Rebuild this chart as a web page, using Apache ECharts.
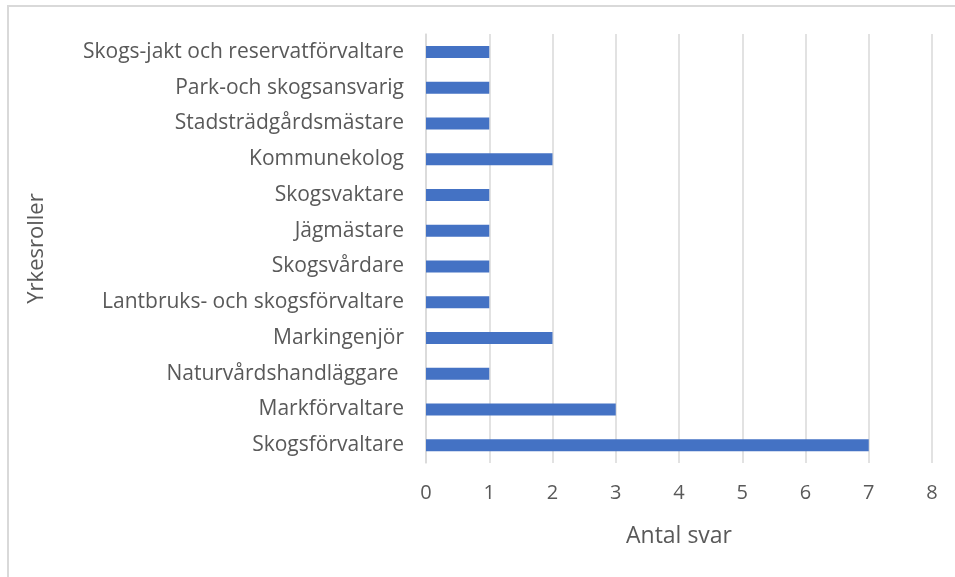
<!DOCTYPE html>
<html>
<head>
<meta charset="utf-8">
<script src="https://cdn.jsdelivr.net/npm/echarts@6/dist/echarts.min.js"></script>
<style>
  html, body { margin: 0; padding: 0; background: #fff; }
  #frame {
    position: absolute; left: 7px; top: 5px; width: 960px; height: 590px;
    border-left: 2px solid #d9d9d9; border-top: 2px solid #d9d9d9;
  }
  #chart { position: absolute; left: 0; top: 0; width: 955px; height: 577px; }
</style>
</head>
<body>
<div id="frame"></div>
<div id="chart"></div>
<script>
// yrkesroller, nedifrån och upp
const roles = [
  'Skogsförvaltare',
  'Markförvaltare',
  'Naturvårdshandläggare ',
  'Markingenjör',
  'Lantbruks- och skogsförvaltare',
  'Skogsvårdare',
  'Jägmästare',
  'Skogsvaktare',
  'Kommunekolog',
  'Stadsträdgårdsmästare',
  'Park-och skogsansvarig',
  'Skogs-jakt och reservatförvaltare'
]
const answers = [7, 3, 1, 2, 1, 1, 1, 1, 2, 1, 1, 1]

const font = '"Open Sans", sans-serif'
const grey = '#595959'

const myChart = echarts.init(document.getElementById('chart'))
const option = {
  animation: false,
  grid: { left: 426, right: 23, top: 34, bottom: 114, containLabel: false },
  xAxis: {
    type: 'value',
    min: 0,
    max: 8,
    interval: 1,
    name: 'Antal svar',
    nameLocation: 'middle',
    nameGap: 62,
    nameTextStyle: { color: grey, fontSize: 23, fontFamily: font },
    axisLine: { show: false },
    axisTick: { show: false },
    axisLabel: { color: grey, fontSize: 20, fontFamily: font, margin: 20 },
    splitLine: { show: true, lineStyle: { color: '#d9d9d9', width: 1.5 } }
  },
  yAxis: {
    type: 'category',
    data: roles,
    name: 'Yrkesroller',
    nameLocation: 'middle',
    nameGap: 378,
    nameRotate: 90,
    nameTextStyle: { color: grey, fontSize: 22, fontFamily: font },
    axisLine: { show: true, lineStyle: { color: '#d9d9d9', width: 1.5 } },
    axisTick: { show: false },
    axisLabel: { color: grey, fontSize: 21, fontFamily: font, margin: 22, interval: 0 }
  },
  series: [
    {
      type: 'bar',
      data: answers,
      barWidth: 12,
      itemStyle: { color: '#4472c4' }
    }
  ]
}
myChart.setOption(option)
</script>
</body>
</html>
